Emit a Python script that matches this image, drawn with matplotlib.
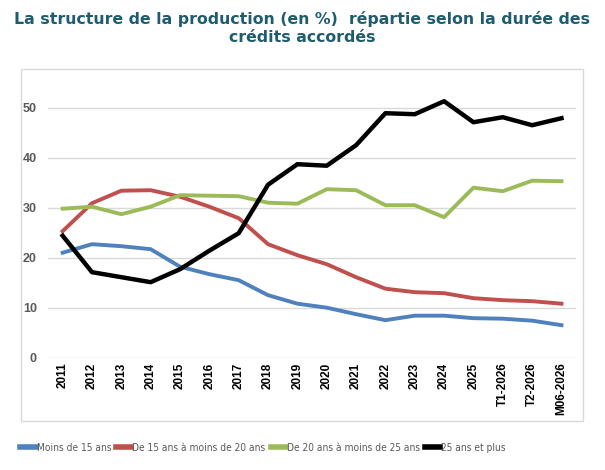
import matplotlib.pyplot as plt
from matplotlib.patches import Rectangle

# -----------------------------------
# DATA
# -----------------------------------

periods = [
    "2011", "2012", "2013", "2014", "2015", "2016", "2017", "2018",
    "2019", "2020", "2021", "2022", "2023", "2024", "2025",
    "T1-2026", "T2-2026", "M06-2026"
]

moins_15 = [21.0, 22.7, 22.3, 21.7, 18.2, 16.7, 15.5, 12.5, 10.8,
            10.0, 8.7, 7.5, 8.4, 8.4, 7.9, 7.8, 7.4, 6.5]

de_15_20 = [25.3, 30.9, 33.4, 33.5, 32.2, 30.2, 27.9, 22.7, 20.5,
            18.7, 16.1, 13.8, 13.1, 12.9, 11.9, 11.5, 11.3, 10.8]

de_20_25 = [29.8, 30.2, 28.7, 30.2, 32.5, 32.4, 32.3, 31.0, 30.8,
            33.7, 33.5, 30.5, 30.5, 28.1, 34.0, 33.3, 35.4, 35.3]

plus_25 = [24.4, 17.1, 16.1, 15.1, 17.7, 21.4, 24.9, 34.6, 38.7,
           38.4, 42.5, 48.9, 48.7, 51.3, 47.1, 48.1, 46.5, 47.9]

series_labels = [
    "Moins de 15 ans",
    "De 15 ans à moins de 20 ans",
    "De 20 ans à moins de 25 ans",
    "25 ans et plus"
]

# -----------------------------------
# FIGURE
# -----------------------------------

plt.rcParams["font.family"] = ["Liberation Sans", "DejaVu Sans"]

fig = plt.figure(figsize=(6.05, 4.70), dpi=100)

# chart frame
fig.patches.append(Rectangle(
    (21 / 605, 1 - 421 / 470), (583 - 21) / 605, (421 - 69) / 470,
    transform=fig.transFigure, fill=False, edgecolor="#d9d9d9", linewidth=1
))

ax = fig.add_axes([0.0793, 0.239, 0.873, 0.585])

x = list(range(len(periods)))

ax.plot(x, moins_15, color="#4f81bd", linewidth=2.8, label=series_labels[0])
ax.plot(x, de_15_20, color="#c0504d", linewidth=2.8, label=series_labels[1])
ax.plot(x, de_20_25, color="#9bbb59", linewidth=2.8, label=series_labels[2])
ax.plot(x, plus_25, color="black", linewidth=3.2, label=series_labels[3])

ax.set_xlim(-0.5, len(periods) - 0.5)
ax.set_ylim(0, 55)
ax.set_yticks([0, 10, 20, 30, 40, 50])
ax.grid(axis="y", color="#d9d9d9", linewidth=1)
ax.set_axisbelow(True)

for side in ["top", "right", "left", "bottom"]:
    ax.spines[side].set_visible(False)

ax.tick_params(axis="both", length=0)
ax.tick_params(axis="y", labelcolor="#595959", labelsize=9, pad=8)

ax.set_xticks(x)
ax.set_xticklabels(periods, rotation=90, fontsize=8.5, fontweight="bold")
for lbl in ax.get_yticklabels():
    lbl.set_fontweight("bold")

# -----------------------------------
# TITLE
# -----------------------------------

fig.text(
    0.5, 0.977,
    "La structure de la production (en %)  répartie selon la durée des\ncrédits accordés",
    ha="center", va="top", fontsize=11.3, fontweight="bold",
    family="DejaVu Sans", color="#1f5c6e", linespacing=1.25
)

# -----------------------------------
# LEGEND
# -----------------------------------

leg = fig.legend(
    loc="center", bbox_to_anchor=(0.435, 1 - 448 / 470),
    ncol=4, frameon=False, handlelength=1.5, handletextpad=0.1,
    columnspacing=0.5,
    prop={"family": "DejaVu Sans", "stretch": "condensed", "size": 7.3}
)
for txt in leg.get_texts():
    txt.set_color("#595959")
for line in leg.get_lines():
    line.set_linewidth(4)

plt.savefig("out.png", dpi=100)
